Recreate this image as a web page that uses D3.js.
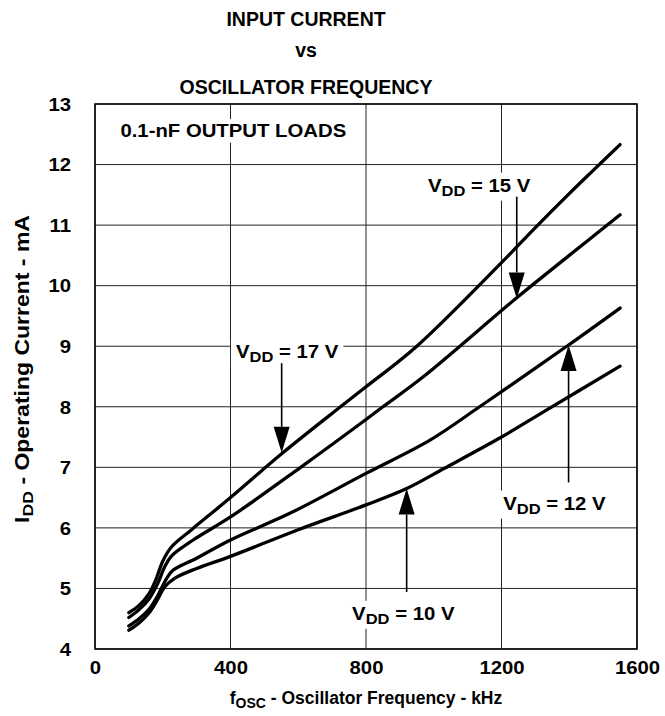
<!DOCTYPE html>
<html><head><meta charset="utf-8">
<script src="https://cdn.jsdelivr.net/npm/d3@7"></script>
<style>body{margin:0;background:#fff}</style>
</head><body>
<svg id="chart" width="665" height="716"></svg>
<script>
// ---- data ----
const freqTicks = [0, 400, 800, 1200, 1600];
const currentTicks = [4, 5, 6, 7, 8, 9, 10, 11, 12, 13];

const v17Freq = [100, 130, 160, 180, 200, 225, 285, 400, 550, 720, 800, 950, 1200, 1300, 1400, 1470, 1550];
const v17Curr = [4.6, 4.72, 4.92, 5.15, 5.45, 5.68, 5.97, 6.5, 7.22, 7.98, 8.33, 9.0, 10.38, 10.96, 11.52, 11.9, 12.33];

const v15Freq = [100, 130, 160, 185, 205, 225, 290, 400, 607, 800, 850, 970, 1245, 1400, 1550];
const v15Curr = [4.52, 4.65, 4.83, 5.08, 5.35, 5.53, 5.8, 6.18, 7.0, 7.79, 8.0, 8.5, 9.8, 10.5, 11.17];

const v12Freq = [100, 130, 160, 185, 210, 230, 300, 400, 575, 800, 989, 1130, 1200, 1398, 1550];
const v12Curr = [4.38, 4.5, 4.66, 4.88, 5.15, 5.3, 5.5, 5.8, 6.24, 6.9, 7.45, 7.98, 8.25, 9.02, 9.63];

const v10Freq = [100, 130, 160, 185, 205, 236, 300, 400, 600, 800, 920, 1030, 1200, 1340, 1550];
const v10Curr = [4.31, 4.43, 4.6, 4.82, 5.02, 5.17, 5.33, 5.53, 5.97, 6.38, 6.65, 6.98, 7.5, 7.97, 8.67];

const seriesNames = ["17", "15", "12", "10"];

// annotations: label anchor (freq, current) and arrow tail/tip (freq, current)
const annLabels = ["17", "15", "12", "10"];
const annLabelF = [416, 983, 1205, 759];
const annLabelI = [8.8, 11.55, 6.3, 4.48];
const annArrowF = [551, 1245, 1398, 920];
const annTailI  = [8.72, 11.47, 6.75, 4.94];
const annTipI   = [7.24, 9.79, 9.02, 6.65];

// ---- drawing ----
const W = 665, H = 716;
const L = 95, R = 637, T = 104, B = 649;
const FONT = "'Liberation Sans', Arial, Helvetica, sans-serif";

const svg = d3.select("#chart");
svg.append("rect").attr("width", W).attr("height", H).attr("fill", "#fff");

const x = d3.scaleLinear().domain([0, 1600]).range([L, R]);
const y = d3.scaleLinear().domain([4, 13]).range([B, T]);

// grid
const grid = svg.append("g");
grid.selectAll("line.h").data(currentTicks).join("line")
  .attr("x1", L).attr("x2", R).attr("y1", d => y(d)).attr("y2", d => y(d))
  .attr("stroke", "#222").attr("stroke-width", 1);
grid.selectAll("line.v").data(freqTicks).join("line")
  .attr("y1", T).attr("y2", B).attr("x1", d => x(d)).attr("x2", d => x(d))
  .attr("stroke", "#222").attr("stroke-width", 1);

function stext(parent, px, py, anchor, size, sx, rot) {
  const g = parent.append("g")
    .attr("transform", `translate(${px},${py})` + (rot ? ` rotate(${rot})` : "") + ` scale(${sx},1)`);
  return g.append("text").attr("text-anchor", anchor)
    .attr("font-family", FONT).attr("font-weight", "bold")
    .attr("font-size", size).attr("fill", "#000");
}

// axes via d3 axis (ticks & labels)
const TSX = 1.13;
const xAxis = d3.axisBottom(x).tickValues(freqTicks).tickSize(0).tickPadding(0).tickFormat(d3.format("d"));
const yAxis = d3.axisLeft(y).tickValues(currentTicks).tickSize(0).tickPadding(0).tickFormat(d3.format("d"));
const gx = svg.append("g").attr("transform", `translate(0,${B})`).call(xAxis);
gx.select(".domain").remove();
gx.selectAll(".tick text").attr("y", 25).attr("dy", 0).attr("x", 0)
  .attr("font-family", FONT).attr("font-weight", "bold").attr("font-size", 18).attr("fill", "#000")
  .attr("transform", `scale(${TSX},1)`);
const gy = svg.append("g").attr("transform", `translate(${L},0)`).call(yAxis);
gy.select(".domain").remove();
gy.selectAll(".tick text").attr("x", -24 / TSX).attr("dy", "0.35em")
  .attr("font-family", FONT).attr("font-weight", "bold").attr("font-size", 18).attr("fill", "#000")
  .attr("transform", `scale(${TSX},1)`);

// frame
svg.append("rect").attr("x", L).attr("y", T).attr("width", R - L).attr("height", B - T)
  .attr("fill", "none").attr("stroke", "#000").attr("stroke-width", 1.5);

// inner label with white background
function labelWithBg(px, py, anchor, size, sx, build, pad) {
  const gg = svg.append("g");
  const bg = gg.append("rect").attr("fill", "#fff");
  const t = stext(gg, px, py, anchor, size, sx);
  build(t);
  const bb = t.node().getBBox();
  bg.attr("x", px + bb.x * sx - pad).attr("y", py + bb.y - 2)
    .attr("width", bb.width * sx + 2 * pad).attr("height", bb.height + 4);
  return gg;
}

labelWithBg(x(75), 137, "start", 18, 1.13, t => t.text("0.1-nF OUTPUT LOADS"), 7);

// curves
const allF = [v17Freq, v15Freq, v12Freq, v10Freq];
const allI = [v17Curr, v15Curr, v12Curr, v10Curr];
const line = d3.line().x(d => x(d[0])).y(d => y(d[1])).curve(d3.curveCatmullRom.alpha(0.5));
seriesNames.forEach((n, k) => {
  const pts = allF[k].map((f, i) => [f, allI[k][i]]);
  svg.append("path").datum(pts).attr("d", line)
    .attr("fill", "none").attr("stroke", "#000").attr("stroke-width", 3.3)
    .attr("stroke-linecap", "round").attr("stroke-linejoin", "round");
});

// annotations
annLabels.forEach((v, k) => {
  labelWithBg(x(annLabelF[k]), y(annLabelI[k]), "start", 18.5, 1.1, t => {
    t.append("tspan").text("V");
    t.append("tspan").attr("font-size", 15).attr("dy", 4).text("DD");
    t.append("tspan").attr("dy", -4).text(` = ${v} V`);
  }, 5);
  const ax = x(annArrowF[k]), y0 = y(annTailI[k]), y1 = y(annTipI[k]);
  const dir = y1 > y0 ? 1 : -1;
  const hl = 26, hw = 8;
  svg.append("line").attr("x1", ax).attr("x2", ax).attr("y1", y0).attr("y2", y1 - dir * hl)
    .attr("stroke", "#000").attr("stroke-width", 1.6);
  svg.append("path")
    .attr("d", `M${ax},${y1} L${ax - hw},${y1 - dir * hl} L${ax + hw},${y1 - dir * hl} Z`)
    .attr("fill", "#000");
});

// titles
stext(svg, 306, 26, "middle", 19.5, 1).text("INPUT CURRENT");
stext(svg, 306, 57, "middle", 19.5, 1).text("vs");
stext(svg, 306, 94, "middle", 19.5, 1).text("OSCILLATOR FREQUENCY");

// axis titles
const xt = stext(svg, 366, 704, "middle", 17.5, 1);
xt.append("tspan").text("f");
xt.append("tspan").attr("font-size", 14).attr("dy", 4).text("OSC");
xt.append("tspan").attr("dy", -4).text(" - Oscillator Frequency - kHz");

const yt = stext(svg, 29, 369, "middle", 19.5, 1.18, -90);
yt.append("tspan").text("I");
yt.append("tspan").attr("font-size", 15).attr("dy", 4).text("DD");
yt.append("tspan").attr("dy", -4).text(" - Operating Current - mA");
</script>
</body></html>
